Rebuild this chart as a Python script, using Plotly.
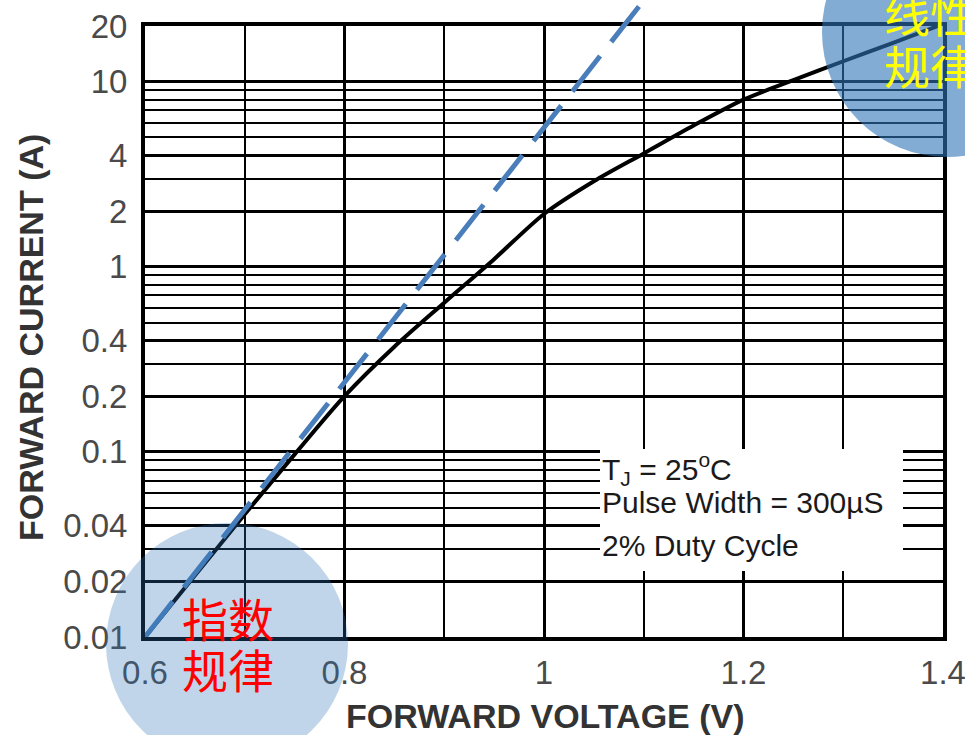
import numpy as np
import plotly.graph_objects as go

# ---- data ----
voltage = [0.6, 0.65, 0.7, 0.75, 0.8, 0.85, 0.9, 0.95, 1.0, 1.05, 1.1, 1.15, 1.2, 1.25, 1.3, 1.35, 1.395]
current = [0.01, 0.0215, 0.046, 0.097, 0.2, 0.37, 0.64, 1.1, 1.93, 2.9, 4.1, 5.8, 8.0, 10.2, 12.9, 16.2, 20]

exp_voltage = [0.6, 1.12]
exp_current = [0.01, 37.8]

x_tickvals = [0.6, 0.8, 1.0, 1.2, 1.4]
x_ticktext = ["0.6", "0.8", "1", "1.2", "1.4"]
x_minor = [0.7, 0.9, 1.1, 1.3]

y_tickvals = [0.01, 0.02, 0.04, 0.1, 0.2, 0.4, 1, 2, 4, 10, 20]
y_ticktext = ["0.01", "0.02", "0.04", "0.1", "0.2", "0.4", "1", "2", "4", "10", "20"]
y_minor = [0.03, 0.05, 0.06, 0.07, 0.08, 0.09,
           0.3, 0.5, 0.6, 0.7, 0.8, 0.9,
           3, 5, 6, 7, 8, 9]

# ---- layout geometry ----
W, H = 965, 735
ML, MR, MT, MB = 145, 22, 0, 98
plot_h = H - MT - MB           # 637
frame_top_px = 26
dom_top = (plot_h - frame_top_px) / plot_h
y_range = [-2, np.log10(20)]
y2_top = y_range[0] + (y_range[1] - y_range[0]) / dom_top


def px(xp):
    return (xp - ML) / (W - ML - MR)


def py(yp):
    return (plot_h - yp) / plot_h


fig = go.Figure()
fig.add_trace(go.Scatter(x=voltage, y=current, mode="lines",
                         line=dict(color="black", width=4, shape="spline", smoothing=0.8),
                         xaxis="x", yaxis="y", hoverinfo="skip"))
fig.add_trace(go.Scatter(x=exp_voltage, y=exp_current, mode="lines",
                         line=dict(color="#4A7EBB", width=5, dash="45px,18px"),
                         xaxis="x2", yaxis="y2", hoverinfo="skip"))

tickfont = dict(family="Liberation Sans, Arial", size=33, color="#4a4a4a")

fig.update_layout(
    width=W, height=H,
    margin=dict(l=ML, r=MR, t=MT, b=MB, autoexpand=False),
    paper_bgcolor="white", plot_bgcolor="rgba(0,0,0,0)",
    showlegend=False,
    xaxis=dict(range=[0.6, 1.4], domain=[0, 1], anchor="y", automargin=False,
               tickmode="array", tickvals=x_tickvals, ticktext=x_ticktext,
               showgrid=True, gridcolor="black", gridwidth=3,
               minor=dict(tickmode="array", tickvals=x_minor, showgrid=True,
                          gridcolor="black", gridwidth=2, ticks=""),
               showline=True, mirror=True, linecolor="black", linewidth=4,
               ticks="", tickfont=tickfont, ticklabelstandoff=3, zeroline=False,
               ticklabeloverflow="allow"),
    yaxis=dict(type="log", range=y_range, domain=[0, dom_top], anchor="x", automargin=False,
               tickmode="array", tickvals=y_tickvals, ticktext=y_ticktext,
               showgrid=True, gridcolor="black", gridwidth=3,
               minor=dict(tickmode="array", tickvals=y_minor, showgrid=True,
                          gridcolor="black", gridwidth=2, ticks=""),
               showline=True, mirror=True, linecolor="black", linewidth=4,
               ticks="", tickfont=tickfont, ticklabelstandoff=7, zeroline=False,
               ticklabeloverflow="allow"),
    xaxis2=dict(range=[0.6, 1.4], domain=[0, 1], anchor="y2", visible=False, automargin=False),
    yaxis2=dict(type="log", range=[y_range[0], y2_top], domain=[0, 1], anchor="x2",
                visible=False, automargin=False),
)

# white box behind the test-condition text
fig.add_shape(type="rect", xref="paper", yref="paper", layer="above",
              x0=px(600), x1=px(903), y0=py(571), y1=py(449),
              fillcolor="white", line=dict(width=0))

# highlight circles
fig.add_shape(type="circle", xref="paper", yref="paper", layer="above",
              x0=px(106), x1=px(348), y0=py(765), y1=py(523),
              fillcolor="rgba(46,117,182,0.3)", line=dict(width=0))
fig.add_shape(type="circle", xref="paper", yref="paper", layer="above",
              x0=px(822), x1=px(1072), y0=py(157), y1=py(-93),
              fillcolor="rgba(46,117,182,0.6)", line=dict(width=0))

titlefont = dict(family="Liberation Sans, Arial", size=34, color="#333333")
fig.add_annotation(text="<b>FORWARD VOLTAGE (V)</b>", xref="paper", yref="paper",
                   x=px(545), y=py(716), xanchor="center", yanchor="middle",
                   showarrow=False, font=titlefont)
fig.add_annotation(text="<b>FORWARD CURRENT (A)</b>", xref="paper", yref="paper",
                   x=px(31), y=py(338), xanchor="center", yanchor="middle",
                   textangle=-90, showarrow=False, font=titlefont)

legfont = dict(family="Liberation Sans, Arial", size=30, color="#1a1a1a")
for txt, yc in [("T<sub>J</sub> = 25<sup>o</sup>C", 469),
                ("Pulse Width = 300µS", 503),
                ("2% Duty Cycle", 545)]:
    fig.add_annotation(text=txt, xref="paper", yref="paper", x=px(600), y=py(yc),
                       xanchor="left", yanchor="middle", showarrow=False, font=legfont)

cjk = "Noto Sans CJK SC"
for txt, xl, yc, col in [("指数", 180, 617, "#FF0000"), ("规律", 180, 668, "#FF0000"),
                         ("线性", 882, 12, "#FFFF00"), ("规律", 882, 64, "#FFFF00")]:
    fig.add_annotation(text=txt, xref="paper", yref="paper", x=px(xl), y=py(yc),
                       xanchor="left", yanchor="middle", showarrow=False,
                       font=dict(family=cjk, size=46, color=col))

fig.write_html("out.html")
